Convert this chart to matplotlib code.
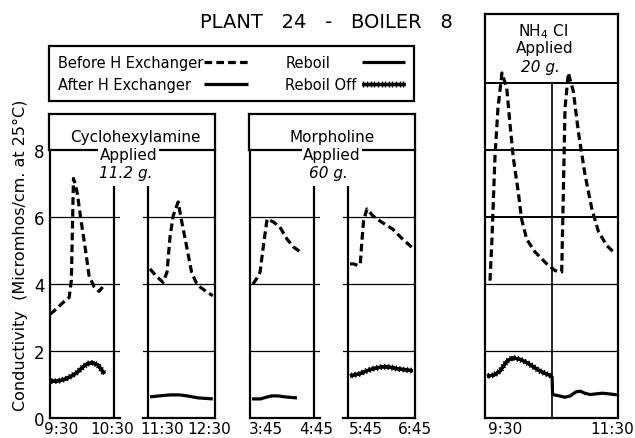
import matplotlib
matplotlib.use("Agg")
import matplotlib.pyplot as plt
from matplotlib import patheffects as pe
from matplotlib.lines import Line2D

# readings taken off the chart, time = minutes from the first label of each panel
cyc1_t_before = [0, 4, 9, 14, 18, 20, 21, 22, 23.5, 25.6, 28.8, 33.5, 36.6, 41.3, 46, 50.6]
cyc1_v_before = [3.1, 3.2, 3.35, 3.5, 3.6, 4.1, 5.6, 7.15, 7.0, 6.7, 5.96, 4.97, 4.25, 3.92, 3.78, 3.96]
cyc1_t_after = [0, 5, 10, 15, 20, 25, 30, 35, 40, 45, 48, 51]
cyc1_v_after = [1.1, 1.1, 1.12, 1.17, 1.25, 1.35, 1.5, 1.62, 1.65, 1.58, 1.45, 1.32]

cyc2_t_before = [1.8, 7, 13.4, 17, 19.7, 22.5, 27, 30, 35, 39, 43, 47, 52, 58]
cyc2_v_before = [4.45, 4.25, 4.05, 4.35, 5.4, 6.03, 6.45, 5.9, 5.05, 4.36, 4.05, 3.9, 3.78, 3.65]
cyc2_t_after = [1.8, 10, 20, 28, 35, 45, 58]
cyc2_v_after = [0.63, 0.66, 0.69, 0.69, 0.66, 0.6, 0.57]

mor1_t_before = [2.8, 6, 9.4, 12.2, 16, 22, 28, 34.7, 41, 47]
mor1_v_before = [4.0, 4.15, 4.35, 5.05, 5.94, 5.85, 5.7, 5.34, 5.1, 4.96]
mor1_t_after = [1.9, 10, 15, 20.6, 26, 32.8, 44]
mor1_v_after = [0.57, 0.57, 0.62, 0.66, 0.66, 0.63, 0.6]

mor2_t_before = [1.8, 5, 9, 11, 12.5, 14, 17, 22.4, 30, 40, 48, 57]
mor2_v_before = [4.6, 4.6, 4.55, 4.6, 5.3, 5.9, 6.24, 6.03, 5.85, 5.64, 5.37, 5.1]
mor2_t_after = [1.8, 5, 10.7, 16, 22.4, 31, 37, 44, 51, 58]
mor2_v_after = [1.26, 1.28, 1.32, 1.4, 1.47, 1.53, 1.52, 1.47, 1.44, 1.41]

nh4_t_before = [4.5, 6.3, 9.0, 11.7, 15.3, 19.6, 22.6, 25.6, 30, 33, 37.6, 45, 55.7, 63.2,
                69.2, 70.7, 72.2, 75.2, 79.7, 84.2, 90.3, 96.3, 102.3, 109.8, 115.8]
nh4_v_before = [4.1, 5.35, 7.8, 9.25, 10.3, 9.85, 8.75, 7.75, 6.75, 5.94, 5.34, 4.96, 4.6, 4.4,
                4.36, 6.75, 9.25, 10.3, 9.75, 8.55, 7.25, 6.26, 5.57, 5.15, 4.96]
nh4_t_off = [1.8, 8, 13.5, 19.8, 25, 31.6, 38, 44, 49.6, 55, 60.5]
nh4_v_off = [1.25, 1.28, 1.4, 1.7, 1.8, 1.75, 1.65, 1.52, 1.4, 1.32, 1.25]
nh4_t_after = [60.5, 61, 67, 72, 77, 82, 86, 90, 95, 100, 106, 112, 119]
nh4_v_after = [1.25, 0.7, 0.66, 0.62, 0.66, 0.78, 0.8, 0.74, 0.7, 0.72, 0.74, 0.72, 0.69]

tick_labels = [["9:30", "10:30"], ["11:30", "12:30"], ["3:45", "4:45"],
               ["5:45", "6:45"], ["9:30", "11:30"]]
y_ticks = [0, 2, 4, 6, 8]

# --- layout (pixels of the 635x439 original) ---
W, H = 635, 439
Y0, PPU = 419, 33.5          # pixel row of 0 and pixels per unit

DASH = dict(color="black", lw=2.3, ls=(0, (2.4, 1.3)), dash_capstyle="butt")
SOLID = dict(color="black", lw=2.3, solid_capstyle="butt")
FRAME_LW = 1.6
GRID_LW = 0.9

plt.rcParams["font.family"] = "DejaVu Sans"


def off_fx():
    # "Reboil Off": heavy line crossed by short ticks
    return [pe.withTickedStroke(spacing=2.6, angle=90, length=0.8, linewidth=1.0),
            pe.withTickedStroke(spacing=2.6, angle=-90, length=0.8, linewidth=1.0),
            pe.Normal()]


def add_ax(fig, x0, x1, ybot, ytop):
    return fig.add_axes([x0 / W, 1 - (Y0 - PPU * ybot) / H,
                         (x1 - x0) / W, PPU * (ytop - ybot) / H])


def panel(fig, x0, x1, t0_px, ppm, ytop, left, right):
    ax = add_ax(fig, x0, x1, 0, ytop)
    ax.set_xlim((x0 - t0_px) / ppm, (x1 - t0_px) / ppm)
    ax.set_ylim(0, ytop)
    ax.set_facecolor("none")
    for s in ax.spines.values():
        s.set_visible(False)
    ax.spines["bottom"].set_visible(True)
    ax.spines["bottom"].set_linewidth(FRAME_LW)
    if left:
        ax.spines["left"].set_visible(True)
        ax.spines["left"].set_linewidth(FRAME_LW)
    if right:
        ax.spines["right"].set_visible(True)
        ax.spines["right"].set_linewidth(FRAME_LW)
    ax.set_yticks([])
    ax.tick_params(axis="x", length=0, pad=2, labelsize=11)
    return ax


def header(fig, x0, x1, lines, xfrac):
    hx = add_ax(fig, x0, x1, 8, 9.07)
    hx.set_xlim(0, 1)
    hx.set_ylim(8, 9.07)
    hx.set_xticks([])
    hx.set_yticks([])
    hx.set_facecolor("none")
    for s in hx.spines.values():
        s.set_linewidth(FRAME_LW)
    hx.text(xfrac[0], 8.39, lines[0], ha="center", va="center", fontsize=11)
    hx.text(xfrac[1], 7.88, lines[1], ha="center", va="center", fontsize=11,
            bbox=dict(facecolor="white", edgecolor="none", pad=1), clip_on=False)
    hx.text(xfrac[2], 7.34, lines[2], ha="center", va="center", fontsize=11,
            style="italic", clip_on=False)
    return hx


fig = plt.figure(figsize=(W / 100, H / 100), dpi=100)

# cyclohexylamine pair
ax1 = panel(fig, 50, 120, 50, 64 / 60, 8, left=True, right=False)
ax2 = panel(fig, 143, 215, 148, 67 / 60, 8, left=False, right=True)
# morpholine pair
ax3 = panel(fig, 250, 320, 250, 64 / 60, 8, left=True, right=False)
ax4 = panel(fig, 343, 415, 348, 67 / 60, 8, left=False, right=True)
# NH4Cl, two hours in one frame
ax5 = panel(fig, 485, 618, 485, 133 / 120, 12.06, left=True, right=True)
ax5.spines["top"].set_visible(True)
ax5.spines["top"].set_linewidth(FRAME_LW)

for ax in (ax1, ax2, ax3, ax4):
    for g in (2, 4, 6):
        ax.axhline(g, color="black", lw=GRID_LW)
for ax in (ax1, ax3):
    ax.axvline(60, ymax=6.9 / 8, color="black", lw=FRAME_LW)
for ax in (ax2, ax4):
    ax.axvline(0, ymax=6.9 / 8, color="black", lw=FRAME_LW)
for g in (2, 4, 6, 8, 10):
    ax5.axhline(g, color="black", lw=GRID_LW if g < 6 else 1.4)
ax5.axvline(60, ymax=10 / 12.06, color="black", lw=1.2)

# curves
ax1.plot(cyc1_t_before, cyc1_v_before, **DASH)
ax1.plot(cyc1_t_after, cyc1_v_after, path_effects=off_fx(), **SOLID)
ax2.plot(cyc2_t_before, cyc2_v_before, **DASH)
ax2.plot(cyc2_t_after, cyc2_v_after, **SOLID)
ax3.plot(mor1_t_before, mor1_v_before, **DASH)
ax3.plot(mor1_t_after, mor1_v_after, **SOLID)
ax4.plot(mor2_t_before, mor2_v_before, **DASH)
ax4.plot(mor2_t_after, mor2_v_after, path_effects=off_fx(), **SOLID)
ax5.plot(nh4_t_before, nh4_v_before, **DASH)
ax5.plot(nh4_t_off, nh4_v_off, path_effects=off_fx(), **SOLID)
ax5.plot(nh4_t_after, nh4_v_after, **SOLID)

# time labels sit a little inboard of the frame lines, as drawn
label_pos = [[10.3, 58.1], [12.5, 54.6], [15, 61.9], [16.1, 60], [18, 114.6]]
for ax, pos, labs in zip((ax1, ax2, ax3, ax4, ax5), label_pos, tick_labels):
    ax.set_xticks(pos, labs)

ax1.set_yticks(y_ticks)
ax1.tick_params(axis="y", length=0, pad=4, labelsize=12)

header(fig, 49, 215, ["Cyclohexylamine", "Applied", "11.2 g."], [0.52, 0.48, 0.46])
header(fig, 249, 415, ["Morpholine", "Applied", "60 g."], [0.5, 0.5, 0.48])

ax5.text(52.3, 11.55, "NH$_4$ Cl", ha="center", va="center", fontsize=11)
ax5.text(54, 11.07, "Applied", ha="center", va="center", fontsize=11)
ax5.text(49.6, 10.5, "20 g.", ha="center", va="center", fontsize=11, style="italic")

# legend
handles = [Line2D([], [], **DASH), Line2D([], [], **SOLID),
           Line2D([], [], **SOLID), Line2D([], [], path_effects=off_fx(), **SOLID)]
labels = ["Before H Exchanger", "After H Exchanger", "Reboil", "Reboil Off"]
leg = fig.legend(handles, labels, loc="upper left", ncol=2, mode="expand",
                 bbox_to_anchor=(49 / W, 1 - 102 / H, 365 / W, 55 / H),
                 markerfirst=False, fancybox=False, edgecolor="black",
                 framealpha=1, fontsize=10.5, handlelength=3.0, handletextpad=0.3,
                 borderaxespad=0, labelspacing=0.5, borderpad=0.6)
leg.get_frame().set_linewidth(FRAME_LW)
# labels flush left, samples flush right in each column
try:
    for col, w in zip(leg._legend_handle_box.get_children(), (190, 120)):
        col.align = "left"
        col.set_width(w)
        for row in col.get_children():
            row.mode = "expand"
except AttributeError:
    pass

fig.text(326 / W, 1 - 22 / H, "PLANT   24   -   BOILER   8", ha="center", va="center",
         fontsize=14)
fig.text(20 / W, 1 - 255 / H, "Conductivity  (Micromhos/cm. at 25\u00b0C)",
         rotation=90, ha="center", va="center", fontsize=11.5)

fig.savefig("out.png", dpi=100, facecolor="white")
